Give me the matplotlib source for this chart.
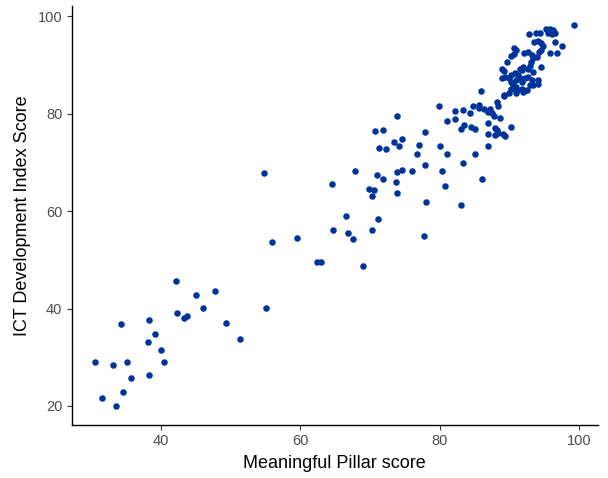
import matplotlib
matplotlib.use("Agg")
import matplotlib.pyplot as plt

plt.rcParams['font.family'] = ['Liberation Sans', 'DejaVu Sans']

meaningful_pillar = [
    # lower group
    42.1, 45.0, 47.7, 46.0, 55.1, 42.3, 43.3, 43.8, 49.4, 34.2, 38.3, 39.1,
    38.2, 51.3, 40.0, 30.6, 33.1, 35.1, 40.5, 35.7, 38.3, 34.6, 31.5, 33.5,
    # middle group
    54.8, 64.5, 67.8, 71.0, 71.9, 73.7, 73.9, 74.6, 76.0, 76.8, 77.9, 69.9,
    70.6, 70.3, 73.9, 78.0, 66.5, 71.2, 64.7, 66.9, 67.6, 70.3, 77.7, 56.0,
    59.5, 62.4, 63.0, 69.0,
    # upper-middle group
    73.9, 71.9, 70.7, 71.3, 72.3, 73.5, 74.6, 74.1, 79.9, 82.2, 83.3, 84.4,
    84.8, 81.0, 82.2, 83.0, 83.5, 84.5, 85.1, 77.9, 77.1, 80.0, 81.1, 85.1,
    83.3, 80.4, 80.8, 86.1, 83.1,
    # high-middle group
    86.0, 89.2, 89.9, 91.0, 91.1, 92.0, 88.2, 88.4, 85.6, 85.7, 86.3, 87.2,
    86.9, 87.5, 87.8, 88.7, 87.0, 90.3, 87.9, 88.2, 88.4, 89.1, 88.0, 89.4,
    87.0, 87.0,
    # top cluster
    99.3, 92.8, 93.9, 94.4, 95.3, 95.8, 96.3, 95.5, 96.1, 96.5, 93.6, 94.1,
    94.6, 94.9, 96.5, 97.6, 95.8, 96.9, 94.3, 94.5, 94.0, 93.4, 93.2, 92.7,
    92.1, 90.7, 91.0, 90.3, 90.7, 89.6, 93.1, 93.0, 92.7, 94.6, 93.4, 92.0,
    91.5, 91.8, 88.9, 89.2, 88.9, 89.4, 89.9, 90.3, 90.8, 91.3, 91.5, 91.0,
    91.8, 90.3, 90.6, 91.0, 92.2, 92.7, 91.8, 92.5, 94.1, 94.1, 93.2, 93.4,
    93.0, 90.3, 89.3,
]

ict_score = [
    # lower group
    45.6, 42.8, 43.6, 40.2, 40.2, 39.1, 38.1, 38.4, 37.1, 36.9, 37.6, 34.8,
    33.2, 33.7, 31.4, 29.1, 28.5, 29.1, 29.1, 25.7, 26.4, 22.9, 21.6, 20.0,
    # middle group
    67.9, 65.6, 68.2, 67.4, 66.6, 66.0, 68.1, 68.4, 68.2, 71.8, 69.5, 64.5,
    64.3, 63.2, 63.7, 61.9, 59.1, 58.3, 56.2, 55.5, 54.2, 56.2, 55.0, 53.7,
    54.4, 49.5, 49.5, 48.8,
    # upper-middle group
    79.6, 76.7, 76.5, 73.0, 72.7, 74.3, 74.9, 73.3, 81.6, 80.6, 80.8, 80.1,
    81.6, 78.5, 79.0, 76.9, 77.8, 77.3, 76.9, 76.2, 73.6, 73.4, 71.8, 71.8,
    70.0, 68.2, 65.1, 66.7, 61.2,
    # high-middle group
    84.6, 83.9, 84.3, 84.2, 84.9, 84.5, 82.4, 81.6, 81.8, 81.1, 80.9, 80.9,
    80.4, 80.1, 79.6, 79.1, 78.1, 77.3, 77.0, 76.6, 76.0, 75.8, 75.6, 75.4,
    75.9, 73.3,
    # top cluster
    98.2, 96.4, 96.6, 96.6, 97.4, 97.5, 97.2, 96.6, 96.5, 96.6, 94.8, 95.0,
    94.5, 93.9, 94.8, 93.9, 92.4, 92.5, 92.7, 93.2, 91.7, 91.4, 92.1, 92.7,
    92.4, 93.6, 93.1, 91.9, 92.3, 90.6, 90.7, 89.9, 89.3, 89.7, 88.6, 89.7,
    89.3, 89.0, 89.3, 88.9, 87.4, 87.6, 87.3, 88.0, 88.3, 88.0, 87.3, 86.9,
    86.6, 86.6, 85.9, 85.6, 87.3, 87.6, 85.2, 85.0, 86.9, 86.2, 86.9, 85.9,
    85.9, 85.2, 83.7,
]

x_ticks = [40, 60, 80, 100]
y_ticks = [20, 40, 60, 80, 100]

fig = plt.figure(figsize=(6.08, 4.78), dpi=100)
ax = fig.add_axes([0.1176, 0.111, 0.866, 0.876])

ax.scatter(meaningful_pillar, ict_score, s=22, color='#00349A', linewidths=0, zorder=3)

xr = max(meaningful_pillar) - min(meaningful_pillar)
yr = max(ict_score) - min(ict_score)
ax.set_xlim(min(meaningful_pillar) - 0.05 * xr, max(meaningful_pillar) + 0.05 * xr)
ax.set_ylim(min(ict_score) - 0.05 * yr, max(ict_score) + 0.05 * yr)

ax.set_xticks(x_ticks)
ax.set_yticks(y_ticks)
ax.tick_params(axis='both', direction='out', length=3.5, width=0.8, color='#333333',
               labelcolor='#4D4D4D', labelsize=10.5, pad=3)

for side in ['top', 'right']:
    ax.spines[side].set_visible(False)
for side in ['left', 'bottom']:
    ax.spines[side].set_linewidth(1.0)
    ax.spines[side].set_color('black')

ax.set_xlabel('Meaningful Pillar score', fontsize=13, color='black', labelpad=5)
ax.set_ylabel('ICT Development Index Score', fontsize=13, color='black', labelpad=5)

fig.savefig('out.png', dpi=100)
